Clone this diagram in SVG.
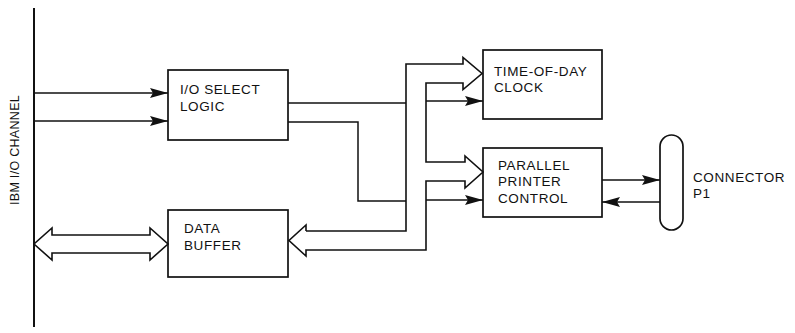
<svg xmlns="http://www.w3.org/2000/svg" width="795" height="333" viewBox="0 0 795 333">
<style>
.box{fill:#fff;stroke:#111;stroke-width:1.7}
.ln{fill:none;stroke:#111;stroke-width:1.5}
.bus{fill:none;stroke:#111;stroke-width:1.6;stroke-linejoin:miter}
.t{font-family:"Liberation Sans",Arial,sans-serif;font-size:13.5px;letter-spacing:0.6px;fill:#111}
</style>
<defs>
<marker id="ah" markerUnits="userSpaceOnUse" markerWidth="18" markerHeight="11" refX="18" refY="5.5" orient="auto" overflow="visible">
<path d="M0,0.5 L18,5.5 L0,10.5 L3,5.5 z" fill="#111"/>
</marker>
</defs>
<rect width="795" height="333" fill="#fff"/>

<g id="channel">
<line x1="34" y1="8" x2="34" y2="327" stroke="#111" stroke-width="2"/>
<text class="t" transform="translate(18.5,150) rotate(-90)" text-anchor="middle" style="font-size:12.5px;letter-spacing:0.3px">IBM I/O CHANNEL</text>
</g>

<g id="io-select">
<rect class="box" x="168" y="70" width="120" height="70"/>
<text class="t" x="180" y="94">I/O SELECT</text>
<text class="t" x="180" y="111">LOGIC</text>
</g>

<g id="data-buffer">
<rect class="box" x="168" y="210" width="120" height="67"/>
<text class="t" x="184" y="233">DATA</text>
<text class="t" x="184" y="250">BUFFER</text>
</g>

<g id="tod-clock">
<rect class="box" x="483" y="50" width="119" height="69"/>
<text class="t" x="494" y="75.5">TIME-OF-DAY</text>
<text class="t" x="494" y="91.5">CLOCK</text>
</g>

<g id="printer-control">
<rect class="box" x="483" y="148" width="119" height="69"/>
<text class="t" x="498" y="170">PARALLEL</text>
<text class="t" x="498" y="186">PRINTER</text>
<text class="t" x="498" y="202.5">CONTROL</text>
</g>

<g id="connector-p1">
<rect class="box" x="660" y="135" width="23" height="95" rx="11.5" ry="11.5"/>
<text class="t" x="693" y="182">CONNECTOR</text>
<text class="t" x="693" y="197.5">P1</text>
</g>

<g id="connectors">
<line class="ln" x1="34" y1="93" x2="168" y2="93" marker-end="url(#ah)"/>
<line class="ln" x1="34" y1="121" x2="168" y2="121" marker-end="url(#ah)"/>
<path class="bus" d="M52,235 L150,235 L150,228 L168,244 L150,260 L150,253 L52,253 L52,260 L34,244 L52,228 Z" fill="#fff"/>
<polyline class="bus" points="306,231 406,231 406,64 463,64 463,57.5 482,73.5 463,89.5 463,83 426,83 426,162 465,162 465,156 483,172 465,188 465,181 426,181 426,250 306,250 306,256 289,240.5 306,225 306,231"/>
<polyline class="ln" points="288,103 406,103"/>
<polyline class="ln" points="288,122 358,122 358,201 406,201"/>
<line class="ln" x1="426" y1="101" x2="483" y2="101" marker-end="url(#ah)"/>
<line class="ln" x1="426" y1="200" x2="483" y2="200" marker-end="url(#ah)"/>
<line class="ln" x1="602" y1="180" x2="660" y2="180" marker-end="url(#ah)"/>
<line class="ln" x1="660" y1="202" x2="602" y2="202" marker-end="url(#ah)"/>
</g>
</svg>
